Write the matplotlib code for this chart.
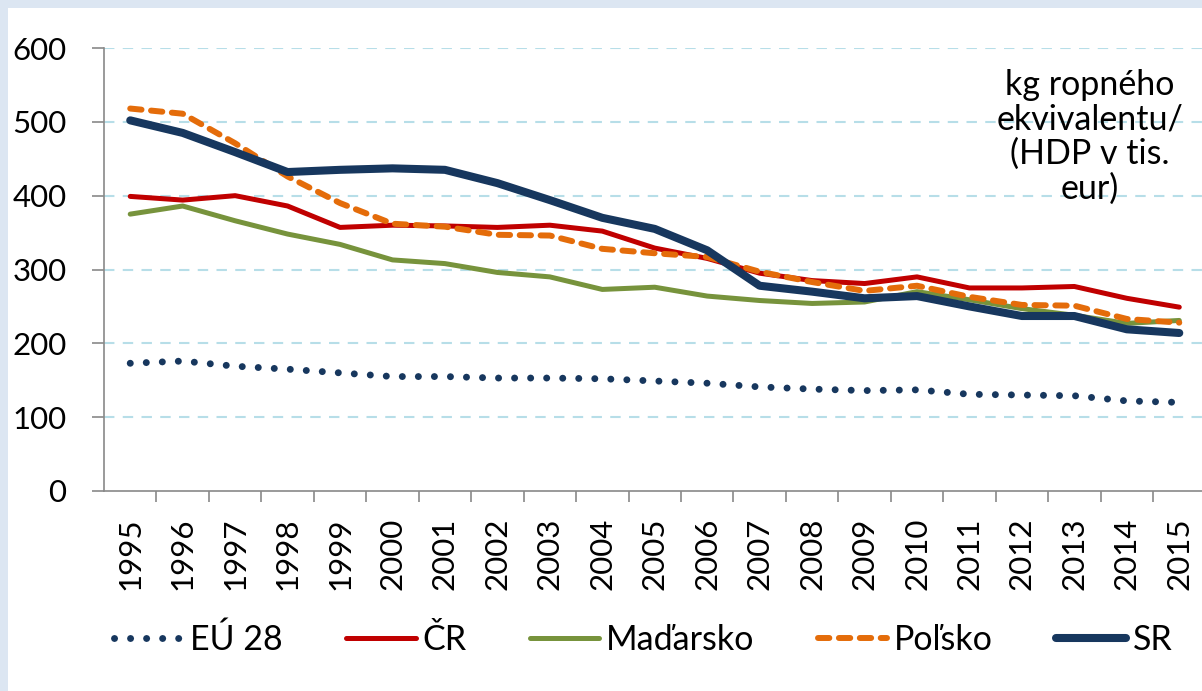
import matplotlib
matplotlib.use('Agg')
import matplotlib.pyplot as plt
from matplotlib.patches import Rectangle

plt.rcParams['font.family'] = ['Lato', 'DejaVu Sans']
FS = 22.5
FS_TXT = 24.5

# data (kg ropného ekvivalentu / HDP v tis. eur)
years = [str(y) for y in range(1995, 2016)]
eu28 = [173, 176, 169, 165, 160, 155, 155, 153, 153, 152, 149, 146, 141, 138, 136, 137, 131, 130, 129, 122, 120]
cr = [399, 394, 400, 386, 357, 360, 359, 357, 360, 352, 329, 315, 295, 285, 281, 290, 275, 275, 277, 261, 249]
madarsko = [375, 386, 366, 348, 334, 313, 308, 296, 290, 273, 276, 264, 258, 254, 256, 270, 259, 247, 238, 227, 231]
polsko = [518, 511, 471, 426, 390, 362, 358, 347, 346, 328, 322, 317, 297, 283, 271, 278, 263, 252, 251, 233, 228]
sr = [502, 485, 459, 432, 435, 437, 435, 417, 394, 370, 355, 326, 278, 270, 261, 264, 250, 237, 237, 219, 214]

fig = plt.figure(figsize=(12.02, 6.91), dpi=100)
fig.patch.set_facecolor('#dce6f2')
fig.patches.append(Rectangle((8 / 1202, 0), 1, 1 - 8 / 691, transform=fig.transFigure,
                             facecolor='white', edgecolor='none', zorder=-1))

ax = fig.add_axes([104 / 1202, 1 - 491 / 691, 1101.5 / 1202, 443 / 691])
ax.set_facecolor('none')
x = list(range(len(years)))

ax.plot(x, eu28, color='#17375e', lw=5, linestyle=(0, (0.01, 2.3)),
        dash_capstyle='round', label='EÚ 28')
ax.plot(x, cr, color='#c00000', lw=3.6, solid_capstyle='round', label='ČR')
ax.plot(x, madarsko, color='#77933c', lw=3.6, solid_capstyle='round', label='Maďarsko')
ax.plot(x, polsko, color='#e46c0a', lw=4.3, linestyle=(0, (1.9, 1.6)),
        dash_capstyle='round', label='Poľsko')
ax.plot(x, sr, color='#17375e', lw=5.8, solid_capstyle='round', label='SR')

ax.set_xlim(-0.5, len(years) - 0.5)
ax.set_ylim(0, 600)
ax.set_yticks(range(0, 601, 100))
ax.tick_params(axis='y', labelsize=FS, length=9, width=1.2, color='#898989', pad=18)
ax.set_xticks(x)
ax.set_xticklabels(years, rotation=90, fontsize=FS)
ax.tick_params(axis='x', which='major', length=0, pad=19)
ax.set_xticks([i - 0.5 for i in range(1, len(years) + 1)], minor=True)
ax.tick_params(axis='x', which='minor', length=8, width=1.2, color='#898989')

for s in ['top', 'right']:
    ax.spines[s].set_visible(False)
for s in ['left', 'bottom']:
    ax.spines[s].set_color('#898989')
    ax.spines[s].set_linewidth(1.2)

for v in range(100, 601, 100):
    ax.axhline(v, color='#b7dee8', lw=1.5, linestyle=(0, (5, 4)), zorder=0)

fig.text(1090 / 1202, 1 - 137 / 691, 'kg ropného\nekvivalentu/\n(HDP v tis.\neur)',
         ha='center', va='center', multialignment='center', fontsize=FS_TXT, linespacing=1.1)

leg = fig.legend(loc='center', bbox_to_anchor=(0.535, 1 - 640 / 691), ncol=5, frameon=False,
                 fontsize=FS_TXT, handlelength=2.05, handletextpad=0.2, columnspacing=1.85)

fig.savefig('out.png', dpi=100, facecolor=fig.get_facecolor())
